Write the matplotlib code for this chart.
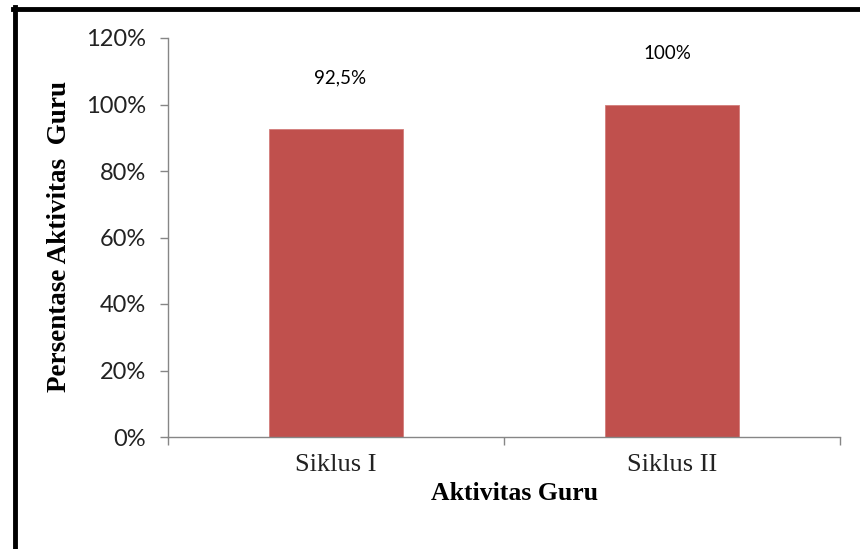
import matplotlib.pyplot as plt
from matplotlib.lines import Line2D
from matplotlib.ticker import FixedLocator

categories = ["Siklus I", "Siklus II"]
values = [92.5, 100]
value_labels = ["92,5%", "100%"]
y_ticks = [0, 20, 40, 60, 80, 100, 120]
y_tick_labels = ["0%", "20%", "40%", "60%", "80%", "100%", "120%"]

bar_color = "#C0504D"
axis_color = "#868686"

fig = plt.figure(figsize=(8.6, 5.49), dpi=100)
ax = fig.add_axes([168 / 860, 1 - 437 / 549, 672 / 860, 399 / 549])

x = list(range(len(categories)))
bars = ax.bar(x, values, width=0.4, color=bar_color, edgecolor="#D27C7A", linewidth=0.6)

for xi, v, lab in zip(x, values, value_labels):
    ax.annotate(lab, (xi, v), xytext=(3 if xi == 0 else -3, 37), textcoords="offset points",
                ha="center", va="center", fontsize=13.5, family="Lato", color="black")

ax.set_xlim(-0.5, len(categories) - 0.5)
ax.set_ylim(0, 120)
ax.set_yticks(y_ticks)
ax.set_yticklabels(y_tick_labels, family="Lato", fontsize=17, color="#222222")
ax.tick_params(axis="y", length=6, width=1, color=axis_color, pad=10)

ax.xaxis.set_major_locator(FixedLocator([-0.5, 0.5, 1.5]))
ax.xaxis.set_major_formatter(plt.NullFormatter())
ax.tick_params(axis="x", which="major", length=6, width=1, color=axis_color)
ax.set_xticks(x, minor=True)
ax.set_xticklabels(categories, minor=True, family="Liberation Serif", fontsize=19, color="#222222")
ax.tick_params(axis="x", which="minor", length=0, pad=12)

for s in ["top", "right"]:
    ax.spines[s].set_visible(False)
for s in ["left", "bottom"]:
    ax.spines[s].set_color(axis_color)
    ax.spines[s].set_linewidth(1)

ax.set_xlabel("Aktivitas Guru", family="Liberation Serif", fontweight="bold", fontsize=18.5)
ax.xaxis.set_label_coords(0.516, -0.112)
fig.text(60 / 860, 1 - 236 / 549, "Persentase Aktivitas  Guru", rotation=90, ha="center", va="center",
         family="Liberation Serif", fontweight="bold", fontsize=19.5)

# frame lines (top and left only)
fig.add_artist(Line2D([13 / 860, 1], [1 - 9 / 549, 1 - 9 / 549], transform=fig.transFigure, color="black", linewidth=3.5))
fig.add_artist(Line2D([15 / 860, 15 / 860], [0, 1 - 7 / 549], transform=fig.transFigure, color="black", linewidth=3.5))

fig.savefig("out.png", dpi=100)
